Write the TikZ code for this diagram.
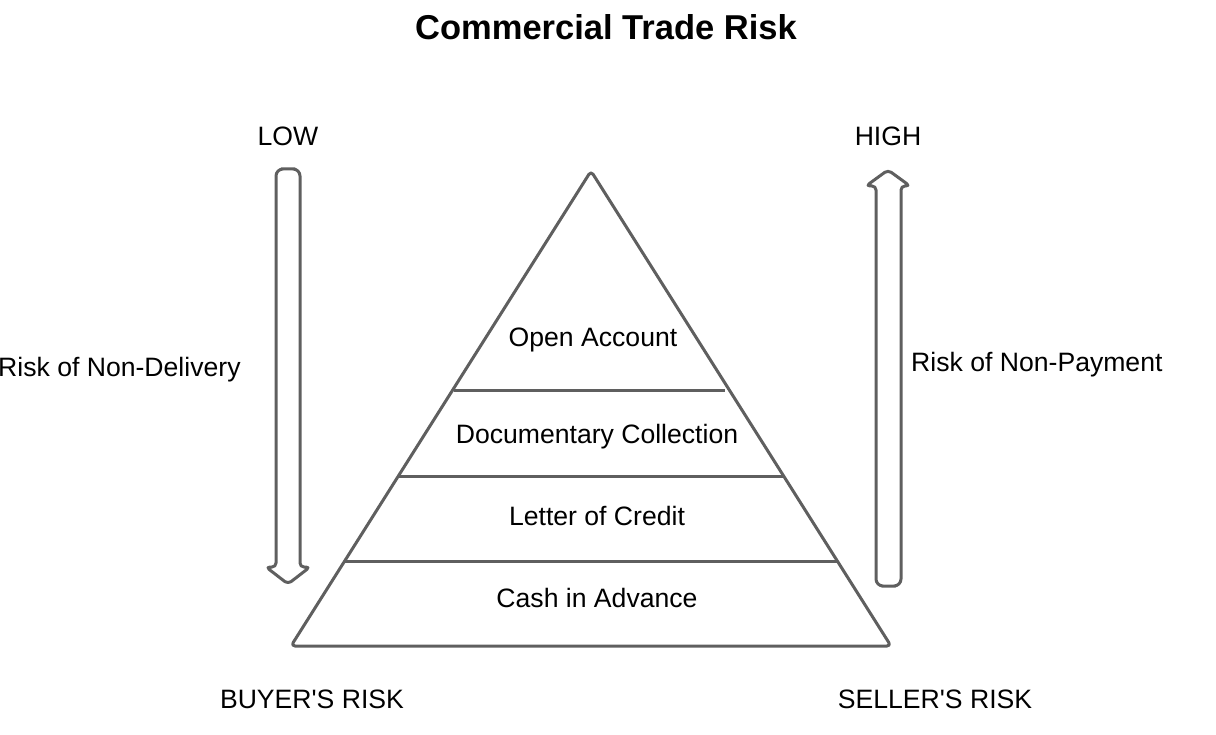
\documentclass[tikz,border=0pt]{standalone}
\usepackage{fontspec}
\setmainfont{Liberation Sans}
\definecolor{linegray}{RGB}{95,95,95}
\begin{document}
\begin{tikzpicture}[x=1pt,y=-1pt,
  lbl/.style={inner sep=0pt,anchor=base,font=\fontsize{26.6}{30}\selectfont,text=black},
  ttl/.style={inner sep=0pt,anchor=base,font=\fontsize{34.5}{40}\selectfont\bfseries,text=black},
  shape line/.style={draw=linegray,line width=3pt,line join=round,line cap=round}]
\useasboundingbox (0,0) rectangle (1216,735);
% title
\node[ttl] (title) at (606,40) {Commercial Trade Risk};
% pyramid
\coordinate (apex) at (591,171);
\coordinate (bl) at (291,646);
\coordinate (br) at (891,646);
\draw[shape line,rounded corners=4] (apex) -- (br) -- (bl) -- cycle;
\coordinate (l1a) at (454,390); \coordinate (l1b) at (725,390);
\coordinate (l2a) at (398,476); \coordinate (l2b) at (785,476);
\coordinate (l3a) at (345,561); \coordinate (l3b) at (837,561);
\draw[shape line,line cap=butt] (l1a) -- (l1b);
\draw[shape line,line cap=butt] (l2a) -- (l2b);
\draw[shape line,line cap=butt] (l3a) -- (l3b);
\node[lbl] (open) at (593,347) {Open Account};
\node[lbl] (doc) at (597,443) {Documentary Collection};
\node[lbl] (loc) at (597,525) {Letter of Credit};
\node[lbl] (cash) at (597,607) {Cash in Advance};
% left arrow (down)
\coordinate (latop) at (288,169);
\coordinate (la1) at (276,169); \coordinate (la2) at (276,567);
\coordinate (la3) at (266,567); \coordinate (latip) at (288,584);
\coordinate (la5) at (310,567); \coordinate (la6) at (300,567);
\coordinate (la7) at (300,169);
\draw[shape line,rounded corners=7] (latop) -- (la7) [rounded corners=4] -- (la6) -- (la5) -- (latip) -- (la3) -- (la2) [rounded corners=7] -- (la1) -- cycle;
% right arrow (up)
\coordinate (rabot) at (888.5,586);
\coordinate (ra1) at (876,586); \coordinate (ra2) at (876,186);
\coordinate (ra3) at (866,186); \coordinate (ratip) at (888,170);
\coordinate (ra5) at (910,186); \coordinate (ra6) at (901,186);
\coordinate (ra7) at (901,586);
\draw[shape line,rounded corners=7] (rabot) -- (ra1) [rounded corners=4] -- (ra2) -- (ra3) -- (ratip) -- (ra5) -- (ra6) [rounded corners=7] -- (ra7) -- cycle;
% labels
\node[lbl] (low) at (288,146) {LOW};
\node[lbl] (high) at (888,146) {HIGH};
\node[lbl,anchor=base west] (nondel) at (-2,377) {Risk of Non-Delivery};
\node[lbl,anchor=base west] (nonpay) at (911,371) {Risk of Non-Payment};
\node[lbl] (buyer) at (312,708) {BUYER\textquotesingle S RISK};
\node[lbl] (seller) at (935,708) {SELLER\textquotesingle S RISK};
\end{tikzpicture}
\end{document}
